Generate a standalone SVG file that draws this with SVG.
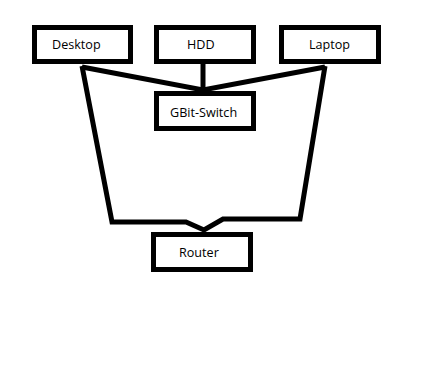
<svg xmlns="http://www.w3.org/2000/svg" width="441" height="365" viewBox="0 0 441 365">
<style>
.box{fill:#fff;stroke:#000;stroke-width:5}
.lbl{font-family:"Open Sans","Noto Sans",sans-serif;font-size:12.6px;fill:#000}
.ln{fill:none;stroke:#000;stroke-width:5;stroke-linejoin:miter}
</style>
<rect width="441" height="365" fill="#fff"/>
<g id="connectors">
<path class="ln" d="M82,67 L203,90 L325,67"/>
<path class="ln" d="M203,64 L203,91"/>
<path class="ln" d="M82,66 L112,222 L186,222 L204,230 L223,219 L300,219 L325,66"/>
</g>
<g id="desktop"><rect class="box" x="34.5" y="27.5" width="96" height="34"/><text class="lbl" x="52" y="49">Desktop</text></g>
<g id="hdd"><rect class="box" x="156.5" y="27.5" width="97" height="34"/><text class="lbl" x="187" y="49">HDD</text></g>
<g id="laptop"><rect class="box" x="281.5" y="27.5" width="97" height="34"/><text class="lbl" x="309" y="49">Laptop</text></g>
<g id="switch"><rect class="box" x="156.5" y="93.5" width="97" height="35"/><text class="lbl" x="170" y="117">GBit-Switch</text></g>
<g id="router"><rect class="box" x="153.5" y="234.5" width="97" height="35"/><text class="lbl" x="179" y="257">Router</text></g>
</svg>
